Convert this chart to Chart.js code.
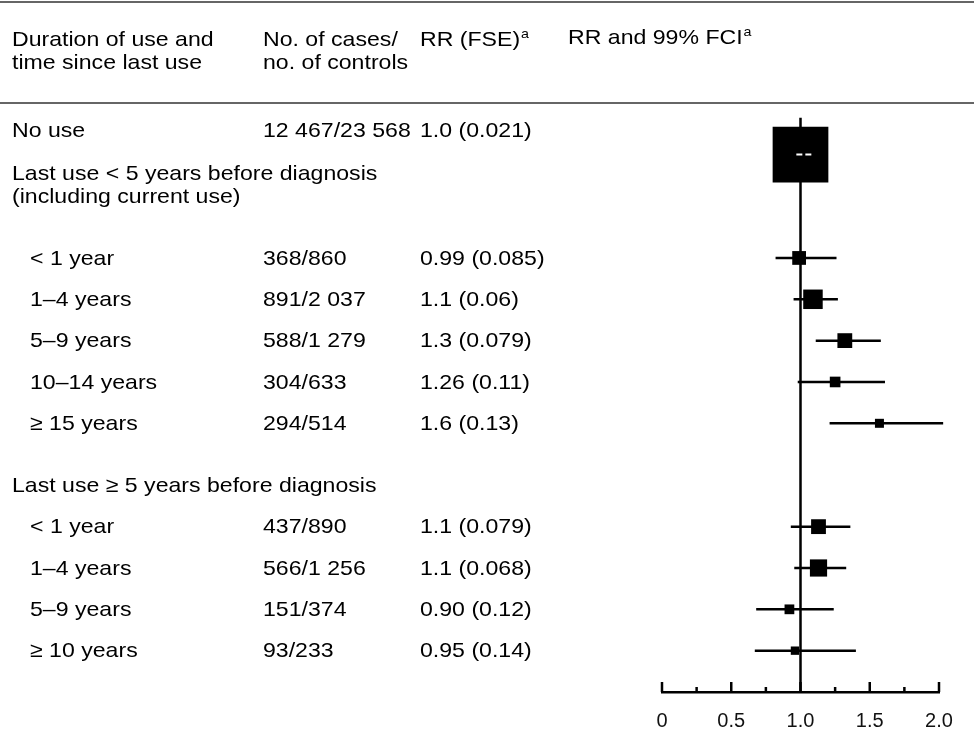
<!DOCTYPE html>
<html>
<head>
<meta charset="utf-8">
<script src="https://cdn.jsdelivr.net/npm/chart.js@4.4.1/dist/chart.umd.min.js"></script>
<style>
  html, body { margin: 0; padding: 0; background: #fff; }
  #wrap { width: 974px; height: 735px; }
</style>
</head>
<body>
<div id="wrap"><canvas id="forest"></canvas></div>
<script>
// table data
const headers = [
  ['Duration of use and', 'time since last use'],
  ['No. of cases/', 'no. of controls'],
  ['RR (FSE)'],
  ['RR and 99% FCI']
];
const groupTitles = [
  ['Last use < 5 years before diagnosis', '(including current use)'],
  ['Last use \u2265 5 years before diagnosis']
];
const rowLabels = ['No use', '< 1 year', '1\u20134 years', '5\u20139 years', '10\u201314 years', '\u2265 15 years',
                   '< 1 year', '1\u20134 years', '5\u20139 years', '\u2265 10 years'];
const rowGroup = [-1, 0, 0, 0, 0, 0, 1, 1, 1, 1];
const casesControls = ['12 467/23 568', '368/860', '891/2 037', '588/1 279', '304/633', '294/514',
                       '437/890', '566/1 256', '151/374', '93/233'];
const rrLabels = ['1.0 (0.021)', '0.99 (0.085)', '1.1 (0.06)', '1.3 (0.079)', '1.26 (0.11)', '1.6 (0.13)',
                  '1.1 (0.079)', '1.1 (0.068)', '0.90 (0.12)', '0.95 (0.14)'];
// plotted values
const rr = [1.0, 0.99, 1.09, 1.32, 1.25, 1.57, 1.13, 1.13, 0.92, 0.96];
const fse = [0.021, 0.085, 0.06, 0.079, 0.11, 0.13, 0.079, 0.068, 0.12, 0.14];
const ciLow = [0.97, 0.82, 0.95, 1.11, 0.98, 1.21, 0.93, 0.955, 0.68, 0.67];
const ciHigh = [1.08, 1.26, 1.27, 1.58, 1.61, 2.03, 1.36, 1.33, 1.24, 1.40];
const xTicks = [0, 0.5, 1.0, 1.5, 2.0];
const xTickLabels = ['0', '0.5', '1.0', '1.5', '2.0'];
const refValue = 1.0;

// layout, in table rows (one row ~ one line of the table)
const FONT = '"Liberation Sans", Arial, sans-serif';
const FS = 21;
const SX = 1.1;              // the scan is a bit wide
const colX = [12, 263, 420, 568];
const indentX = 30;
const yTop = -3.74, yBottom = 13.0;

// row position of every line
const rowY = [];
const groupY = [];
let r = 0;
rowLabels.forEach(function (lab, i) {
  if (i > 0 && rowGroup[i] !== rowGroup[i - 1]) {
    if (rowGroup[i] === 0) { groupY.push(r + 0.44); r += 2.5; }
    else { r += 1.5; groupY.push(r); r += 1; }
  } else if (i > 0) {
    r += 1;
  }
  rowY.push(r);
});

const boxSide = fse.map(f => 1.17 / f);

const datasets = [];
// reference line at RR = 1
datasets.push({
  type: 'line',
  data: [{ x: refValue, y: -0.89 }, { x: refValue, y: yBottom }],
  borderColor: '#000', borderWidth: 2.5, pointRadius: 0, order: 3, clip: false
});
// confidence intervals
rr.forEach(function (v, i) {
  const inside = (ciHigh[i] - ciLow[i]) < 0.2;
  datasets.push({
    type: 'line',
    data: [{ x: ciLow[i], y: rowY[i] }, { x: ciHigh[i], y: rowY[i] }],
    borderColor: inside ? '#fff' : '#000',
    borderWidth: inside ? 2 : 2.5,
    borderDash: inside ? [6, 3] : [],
    pointRadius: 0, order: inside ? 0 : 2, clip: false
  });
});
// boxes
datasets.push({
  type: 'scatter',
  data: rr.map((v, i) => ({ x: v, y: rowY[i] })),
  pointStyle: 'rect',
  pointRadius: boxSide.map(s => s / Math.SQRT2),
  backgroundColor: '#000', borderColor: '#000', borderWidth: 0,
  order: 1, clip: false
});

function drawText(ctx, str, x, y, size) {
  ctx.save();
  ctx.translate(x, y);
  ctx.scale(SX, 1);
  ctx.font = size + 'px ' + FONT;
  ctx.fillText(str, 0, 0);
  const w = ctx.measureText(str).width * SX;
  ctx.restore();
  return w;
}

const tablePlugin = {
  id: 'table',
  afterDraw(chart) {
    const ctx = chart.ctx;
    const ys = chart.scales.y;
    const W = chart.width;
    const py = v => ys.getPixelForValue(v);
    ctx.save();
    // rules
    ctx.strokeStyle = '#333';
    ctx.lineWidth = 1.6;
    [-3.69, -1.25].forEach(function (v) {
      ctx.beginPath(); ctx.moveTo(0, py(v)); ctx.lineTo(W, py(v)); ctx.stroke();
    });
    ctx.fillStyle = '#000';
    ctx.textBaseline = 'middle';
    // headers
    headers.forEach(function (lines, c) {
      lines.forEach(function (s, k) {
        const y = py(-2.77 + k * 0.56) - (c === 3 ? 2 : 0);
        const w = drawText(ctx, s, colX[c], y, FS);
        if (c >= 2) drawText(ctx, 'a', colX[c] + w + 1, y - 6, 13);
      });
    });
    // group titles
    groupTitles.forEach(function (lines, g) {
      lines.forEach(function (s, k) {
        drawText(ctx, s, colX[0], py(groupY[g] + k * 0.56) + 1, FS);
      });
    });
    // rows
    rowLabels.forEach(function (s, i) {
      const y = py(rowY[i]) + (i === 0 ? -23 : 1);
      drawText(ctx, s, rowGroup[i] < 0 ? colX[0] : indentX, y, FS);
      drawText(ctx, casesControls[i], colX[1], y, FS);
      drawText(ctx, rrLabels[i], colX[2], y, FS);
    });
    // x axis ticks point up into the plot
    const xs = chart.scales.x;
    ctx.strokeStyle = '#000';
    ctx.lineWidth = 2.5;
    xs.ticks.forEach(function (t) {
      const x = xs.getPixelForValue(t.value);
      const len = xTicks.indexOf(t.value) >= 0 ? 10 : 5;
      ctx.beginPath(); ctx.moveTo(x, xs.top); ctx.lineTo(x, xs.top - len); ctx.stroke();
    });
    ctx.restore();
  }
};

new Chart(document.getElementById('forest').getContext('2d'), {
  data: { datasets: datasets },
  options: {
    responsive: true,
    maintainAspectRatio: false,
    animation: false,
    events: [],
    layout: { autoPadding: false, padding: { left: 662, right: 35, top: 0, bottom: 1 } },
    plugins: { legend: { display: false }, tooltip: { enabled: false } },
    scales: {
      x: {
        type: 'linear', min: 0, max: 2,
        grid: { display: false },
        border: { display: true, color: '#000', width: 2.5 },
        afterFit: function (scale) { scale.height = 42; },
        ticks: {
          stepSize: 0.25, autoSkip: false, maxRotation: 0, padding: 9,
          color: '#111', font: { family: FONT, size: 20 },
          callback: function (v) {
            const k = xTicks.indexOf(v);
            return k >= 0 ? xTickLabels[k] : '';
          }
        }
      },
      y: { type: 'linear', reverse: true, min: yTop, max: yBottom, display: false }
    }
  },
  plugins: [tablePlugin]
});
</script>
</body>
</html>
